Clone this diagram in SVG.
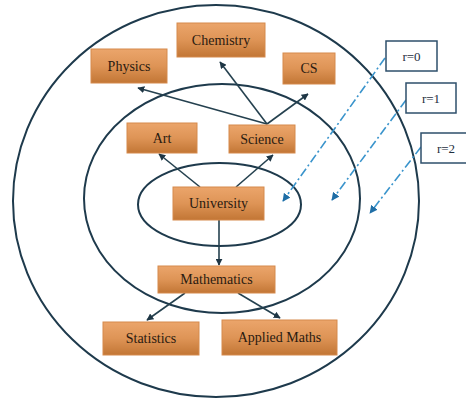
<svg xmlns="http://www.w3.org/2000/svg" width="466" height="401" viewBox="0 0 466 401">
<defs>
<linearGradient id="boxg" x1="0" y1="0" x2="0" y2="1">
<stop offset="0" stop-color="#eba56b"/>
<stop offset="0.5" stop-color="#de9456"/>
<stop offset="1" stop-color="#c27635"/>
</linearGradient>
<marker id="ah" viewBox="0 0 10 10" refX="9" refY="5" markerWidth="7" markerHeight="7" markerUnits="userSpaceOnUse" orient="auto">
<path d="M0,0 L10,5 L0,10 z" fill="#1e3645"/>
</marker>
<marker id="bh" viewBox="0 0 10 10" refX="9" refY="5" markerWidth="8" markerHeight="8" markerUnits="userSpaceOnUse" orient="auto">
<path d="M0,0 L10,5 L0,10 z" fill="#1f6ea6"/>
</marker>
</defs>
<style>
.ring{fill:none;stroke:#1e3a4c;stroke-width:2}
.box{fill:url(#boxg);stroke:#d58a4c;stroke-width:1}
.lbl{font-family:"Liberation Serif","Times New Roman","DejaVu Serif",serif;font-size:14px;fill:#2a1a10;text-anchor:middle;dominant-baseline:central}
.rbox{fill:#fff;stroke:#2e4f6b;stroke-width:1.5}
.rlbl{font-family:"Liberation Serif","Times New Roman","DejaVu Serif",serif;font-size:13px;fill:#1e2e3e;text-anchor:middle;dominant-baseline:central}
.edge{fill:none;stroke:#25414f;stroke-width:1.6;marker-end:url(#ah)}
.dd{fill:none;stroke:#3a94cc;stroke-width:1.6;stroke-dasharray:9,3,2,3;marker-end:url(#bh)}
</style>
<rect width="466" height="401" fill="#fff"/>
<g id="rings">
<ellipse class="ring" cx="216" cy="201" rx="203" ry="196"/>
<ellipse class="ring" cx="222" cy="198.5" rx="138" ry="114.5"/>
<ellipse class="ring" cx="219.5" cy="204.5" rx="81.5" ry="41.5"/>
</g>
<g id="connectors">
<line class="edge" x1="200" y1="187" x2="159" y2="154"/>
<line class="edge" x1="236" y1="187" x2="273" y2="155"/>
<line class="edge" x1="219" y1="220" x2="219" y2="265"/>
<line class="edge" x1="185" y1="293" x2="147" y2="320"/>
<line class="edge" x1="238" y1="293" x2="280" y2="318"/>
<line class="edge" x1="267" y1="124" x2="138" y2="88"/>
<line class="edge" x1="267" y1="124" x2="220" y2="62"/>
<line class="edge" x1="267" y1="124" x2="308" y2="94"/>
<line class="dd" x1="385" y1="58" x2="283" y2="201"/>
<line class="dd" x1="406" y1="100" x2="332" y2="200"/>
<line class="dd" x1="421" y1="147" x2="370" y2="213"/>
</g>
<g id="chemistry"><rect class="box" x="177" y="23" width="88" height="34"/><text class="lbl" x="221" y="40">Chemistry</text></g>
<g id="physics"><rect class="box" x="91" y="49" width="76" height="34"/><text class="lbl" x="129" y="66">Physics</text></g>
<g id="cs"><rect class="box" x="283" y="53" width="52" height="31"/><text class="lbl" x="309" y="68.5">CS</text></g>
<g id="art"><rect class="box" x="127" y="123" width="70" height="30"/><text class="lbl" x="162" y="138">Art</text></g>
<g id="science"><rect class="box" x="229" y="125" width="66" height="28"/><text class="lbl" x="262" y="139">Science</text></g>
<g id="university"><rect class="box" x="173" y="187" width="91" height="33"/><text class="lbl" x="218.5" y="203.5">University</text></g>
<g id="mathematics"><rect class="box" x="158" y="266" width="117" height="27"/><text class="lbl" x="216.5" y="279.5">Mathematics</text></g>
<g id="statistics"><rect class="box" x="103" y="322" width="96" height="33"/><text class="lbl" x="151" y="338.5">Statistics</text></g>
<g id="applied"><rect class="box" x="222" y="320" width="115" height="35"/><text class="lbl" x="279.5" y="337.5">Applied Maths</text></g>
<g id="r0"><rect class="rbox" x="386" y="41" width="51" height="30"/><text class="rlbl" x="411.5" y="56">r=0</text></g>
<g id="r1"><rect class="rbox" x="406" y="83" width="50" height="30"/><text class="rlbl" x="431" y="98">r=1</text></g>
<g id="r2"><rect class="rbox" x="421" y="133" width="50" height="30"/><text class="rlbl" x="446" y="148">r=2</text></g>
</svg>
